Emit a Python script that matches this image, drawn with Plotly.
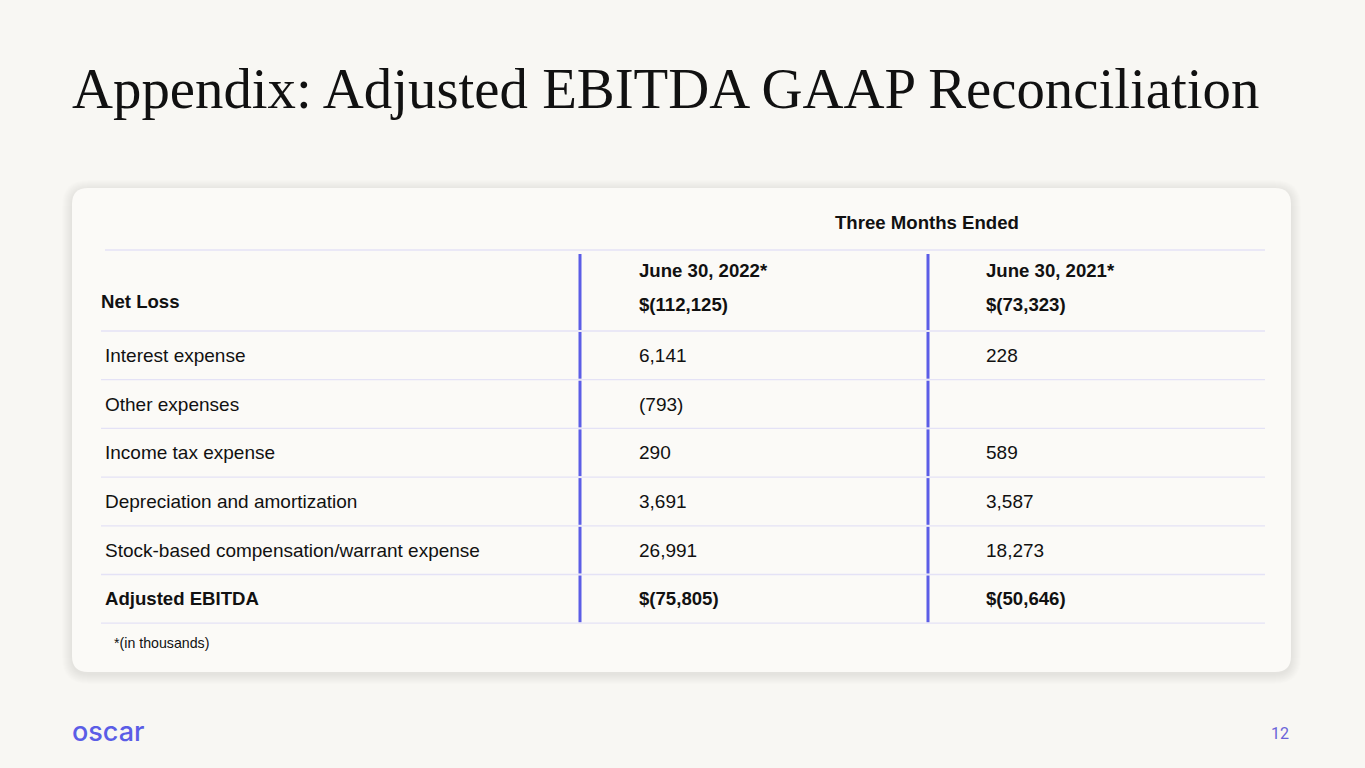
import plotly.graph_objects as go

# ---- data ----
title = "Appendix: Adjusted EBITDA GAAP Reconciliation"
group_header = "Three Months Ended"
periods = ["June 30, 2022*", "June 30, 2021*"]
net_loss_label = "Net Loss"
net_loss = ["$(112,125)", "$(73,323)"]
items = ["Interest expense", "Other expenses", "Income tax expense",
         "Depreciation and amortization",
         "Stock-based compensation/warrant expense",
         "Adjusted EBITDA"]
q2_2022 = ["6,141", "(793)", "290", "3,691", "26,991", "$(75,805)"]
q2_2021 = ["228", "", "589", "3,587", "18,273", "$(50,646)"]
bold_rows = ["Adjusted EBITDA"]
footnote = "*(in thousands)"
logo = "oscar"
page_no = "12"

# ---- style / layout ----
W, H = 1365, 768
BG = "#f8f7f3"
CARD = "#fbfaf7"
PURPLE = "#5b5de6"
RULE = "#e4e2f6"
INK = "#111111"
SANS = "Liberation Sans, Arial, sans-serif"
SERIF = "Liberation Serif, Times New Roman, serif"
FS = 19.0
FS_B = 18.6

card = (72, 188, 1291, 672)
label_x, col_x = 103, [637, 984]
bar_x = [580, 928]
rule_x0, rule_x1 = 101, 1265
hdr_rule_y = 250
first_sep = 331
row_h = 48.7

sep_y = [first_sep + i * row_h for i in range(len(items) + 1)]
row_y = [s + row_h / 2 for s in sep_y[:-1]]


def rrect(x0, y0, x1, y1, r):
    return (f"M{x0+r},{y0} L{x1-r},{y0} Q{x1},{y0} {x1},{y0+r} "
            f"L{x1},{y1-r} Q{x1},{y1} {x1-r},{y1} L{x0+r},{y1} "
            f"Q{x0},{y1} {x0},{y1-r} L{x0},{y0+r} Q{x0},{y0} {x0+r},{y0} Z")


def txt(x, y, s, size=None, bold=False, color=INK, font=SANS, anchor="left", weight=None):
    if size is None:
        size = FS_B if bold else FS
    f = dict(family=font, size=size, color=color)
    if weight:
        f["weight"] = weight
    return dict(x=x, y=y, xref="x", yref="y", text=f"<b>{s}</b>" if bold else s,
                showarrow=False, xanchor=anchor, yanchor="middle", font=f)


shapes = []
# soft card shadow
for k in range(1, 11):
    x0, y0, x1, y1 = card
    shapes.append(dict(type="path", xref="x", yref="y",
                       path=rrect(x0 - k, y0 - k + 2, x1 + k, y1 + k + 2, 16 + k),
                       fillcolor="rgba(0,0,0,0.008)", line=dict(width=0), layer="below"))
shapes.append(dict(type="path", xref="x", yref="y", path=rrect(*card, 16),
                   fillcolor=CARD, line=dict(width=0), layer="below"))

# horizontal rules
shapes.append(dict(type="line", xref="x", yref="y", x0=rule_x0 + 4, x1=rule_x1,
                   y0=hdr_rule_y, y1=hdr_rule_y, line=dict(color=RULE, width=1.3)))
for s in sep_y:
    shapes.append(dict(type="line", xref="x", yref="y", x0=rule_x0, x1=rule_x1,
                       y0=s, y1=s, line=dict(color=RULE, width=1.3)))

# purple column bars, segmented per row
segs = [hdr_rule_y + 3] + sep_y
for bx in bar_x:
    for a, b in zip(segs[:-1], segs[1:]):
        shapes.append(dict(type="line", xref="x", yref="y", x0=bx, x1=bx,
                           y0=a + 1, y1=b - 1, line=dict(color=PURPLE, width=3)))

ann = []
ann.append(txt(70, 88, title, size=56.8, font=SERIF, color=INK))
ann.append(txt((bar_x[0] + rule_x1) / 2 + 4, 222, group_header, bold=True, anchor="center"))
ann.append(txt(label_x - 4, 301, net_loss_label, bold=True))
for cx, p, v in zip(col_x, periods, net_loss):
    ann.append(txt(cx, 270, p, bold=True))
    ann.append(txt(cx, 304, v, bold=True))
for i, lab in enumerate(items):
    b = lab in bold_rows
    ann.append(txt(label_x, row_y[i], lab, bold=b))
    ann.append(txt(col_x[0], row_y[i], q2_2022[i], bold=b))
    ann.append(txt(col_x[1], row_y[i], q2_2021[i], bold=b))
ann.append(txt(112, 643, footnote, size=14.2))
ann.append(txt(70, 731, logo, size=27, font="Inter, Lato, sans-serif", color=PURPLE,
               weight=500))
ann.append(txt(1291, 733, page_no, size=16, font="Roboto, sans-serif",
               color="#6a63d8", anchor="right"))

fig = go.Figure()
fig.update_layout(
    width=W, height=H, margin=dict(l=0, r=0, t=0, b=0),
    paper_bgcolor=BG, plot_bgcolor=BG, showlegend=False,
    xaxis=dict(range=[0, W], visible=False, fixedrange=True),
    yaxis=dict(range=[H, 0], visible=False, fixedrange=True),
    shapes=shapes, annotations=ann,
)
fig.write_html("out.html", config={"displayModeBar": False},
               post_script="document.body.style.margin='0';")
